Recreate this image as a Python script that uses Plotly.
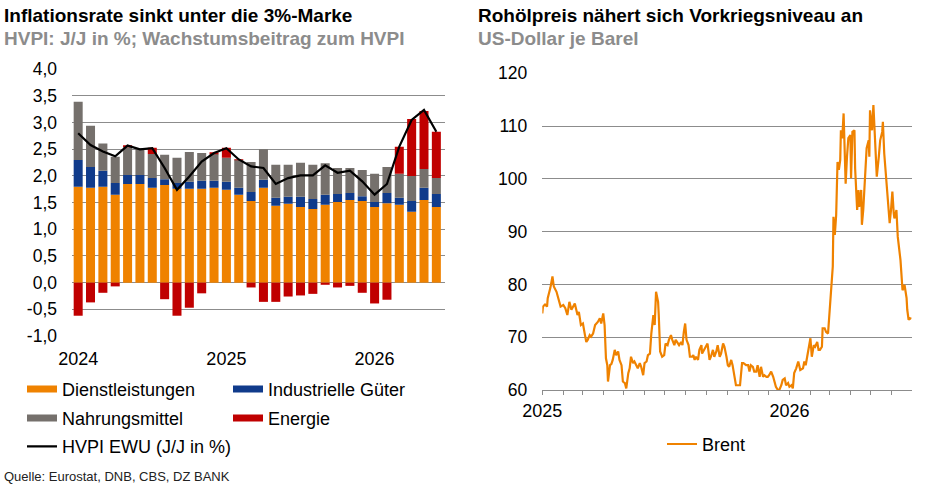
import plotly.graph_objects as go
import pandas as pd

# ---------------- Left chart data (monthly, Jan 2024 - Jun 2026) ----------------
months = pd.period_range("2024-01", "2026-06", freq="M").strftime("%Y-%m").tolist()
dienstleistungen = [1.80, 1.78, 1.80, 1.65, 1.85, 1.85, 1.78, 1.83, 1.76, 1.76, 1.76, 1.78,
                    1.74, 1.65, 1.53, 1.78, 1.44, 1.48, 1.42, 1.38, 1.46, 1.51, 1.55, 1.53,
                    1.42, 1.49, 1.46, 1.33, 1.55, 1.42]
industrielle_gueter = [0.50, 0.39, 0.30, 0.22, 0.17, 0.17, 0.18, 0.11, 0.11, 0.13, 0.15, 0.13,
                       0.15, 0.13, 0.17, 0.15, 0.15, 0.13, 0.19, 0.19, 0.19, 0.15, 0.13, 0.09,
                       0.09, 0.19, 0.13, 0.20, 0.23, 0.24]
nahrungsmittel = [1.09, 0.77, 0.51, 0.49, 0.52, 0.50, 0.45, 0.46, 0.47, 0.56, 0.52, 0.50,
                  0.45, 0.52, 0.56, 0.57, 0.62, 0.60, 0.64, 0.64, 0.59, 0.49, 0.47, 0.49,
                  0.53, 0.49, 0.45, 0.47, 0.35, 0.30]
energie = [-0.62, -0.37, -0.19, -0.07, 0.03, 0.00, 0.12, -0.31, -0.62, -0.47, -0.20, 0.02,
           0.19, 0.01, -0.09, -0.36, -0.36, -0.26, -0.24, -0.21, -0.04, -0.09, -0.06, -0.19,
           -0.39, -0.32, 0.51, 1.07, 1.09, 0.87]
hvpi = [2.80, 2.58, 2.46, 2.37, 2.57, 2.50, 2.52, 2.15, 1.74, 1.99, 2.27, 2.43,
        2.52, 2.31, 2.18, 2.15, 1.85, 1.96, 2.01, 2.01, 2.20, 2.06, 2.10, 1.90,
        1.65, 1.85, 2.55, 3.05, 3.24, 2.83]
left_tickvals_x = ["2024-01", "2025-01", "2026-01"]
left_ticktext_x = ["2024", "2025", "2026"]
left_tickvals_y = [-1.0, -0.5, 0.0, 0.5, 1.0, 1.5, 2.0, 2.5, 3.0, 3.5, 4.0]
left_ticktext_y = ["-1,0", "-0,5", "0,0", "0,5", "1,0", "1,5", "2,0", "2,5", "3,0", "3,5", "4,0"]

# ---------------- Right chart data (Brent, days since 2025-01-01) ----------------
brent_days = [0, 1, 4, 7, 8, 12, 15, 17, 21, 24, 27, 31, 34, 37, 40, 43, 48, 52, 54, 57,
              60, 63, 65, 67, 70, 72, 75, 78, 82, 85, 87, 90, 92, 94, 96, 97, 100, 102, 104, 107,
              109, 112, 114, 117, 119, 122, 124, 127, 129, 131, 134, 136, 139, 141, 144, 146, 149, 151, 154, 156,
              159, 161, 164, 166, 168, 171, 172, 174, 177, 180, 182, 185, 187, 190, 192, 195, 197, 200, 202, 205,
              207, 209, 211, 213, 216, 218, 221, 223, 225, 227, 230, 232, 235, 236, 239, 242, 244, 247, 249, 252,
              254, 257, 259, 262, 264, 267, 269, 272, 274, 276, 279, 281, 284, 286, 289, 292, 295, 297, 301, 304,
              306, 308, 311, 313, 316, 318, 321, 323, 326, 328, 331, 333, 335, 338, 341, 343, 345, 348, 350, 353,
              355, 358, 360, 363, 365, 368, 370, 372, 375, 378, 381, 385, 387, 389, 391, 393, 396, 398, 401, 403,
              406, 408, 410, 413, 414, 417, 419, 422, 424, 426, 428, 429, 430, 432, 434, 436, 438, 440, 441, 443,
              445, 446, 448, 450, 452, 455, 456, 458, 461, 462, 465, 467, 468, 471, 472, 474, 477, 479, 482, 483,
              484, 487, 489, 491, 493, 494, 497, 499, 502, 503, 505, 508, 509, 511, 513, 515, 517, 519, 520, 523,
              525, 529, 531, 532, 535, 538, 539, 541, 543, 545]
brent_values = [74.5, 75.8, 76.2, 75.8, 77.4, 79.4, 81.5, 79.6, 78.6, 77.0, 75.8, 76.1, 75.5, 74.2, 76.7, 75.2, 76.4, 74.2, 74.8, 72.3,
                72.6, 70.4, 69.1, 69.5, 70.4, 70.1, 70.7, 72.3, 72.9, 73.6, 72.6, 74.5, 72.3, 66.0, 64.7, 61.6, 64.7, 64.9, 65.7, 67.6,
                66.6, 67.3, 65.7, 64.7, 61.6, 61.3, 60.3, 63.2, 64.1, 66.3, 65.1, 65.4, 64.7, 64.1, 65.1, 64.4, 62.8, 65.1, 65.4, 66.6,
                66.9, 70.7, 74.2, 72.3, 78.6, 76.7, 74.2, 67.3, 66.3, 66.6, 68.8, 68.5, 69.5, 70.4, 69.5, 68.5, 69.5, 68.8, 68.5, 69.1,
                68.5, 71.0, 72.6, 69.5, 68.5, 66.3, 66.3, 66.6, 65.7, 66.3, 65.7, 67.6, 68.5, 66.9, 67.6, 68.2, 68.8, 65.7, 66.3, 67.6,
                66.3, 67.3, 68.5, 66.3, 66.9, 68.8, 68.2, 66.3, 64.7, 64.4, 65.7, 64.7, 62.8, 60.9, 60.9, 60.9, 65.1, 65.1, 64.7, 64.7,
                63.5, 64.7, 64.4, 63.5, 63.5, 64.7, 62.5, 64.4, 62.5, 62.8, 62.5, 62.5, 62.8, 63.5, 62.5, 61.6, 60.6, 60.0, 60.0, 60.9,
                61.9, 62.2, 60.9, 61.3, 60.6, 60.9, 60.3, 63.2, 64.1, 65.4, 63.8, 64.1, 65.4, 64.7, 66.3, 68.2, 69.8, 66.3, 68.5, 68.2,
                69.1, 67.6, 67.6, 68.2, 71.7, 71.7, 71.0, 70.7, 74.8, 77.7, 82.1, 83.4, 92.8, 89.4, 93.1, 103.2, 101.7, 103.6, 109.2, 107.7,
                112.4, 108.0, 99.1, 104.2, 107.7, 108.3, 100.1, 108.9, 109.2, 102.0, 94.1, 97.9, 94.7, 97.9, 91.3, 94.1, 101.0, 105.8, 107.3, 104.2,
                113.0, 109.2, 114.0, 107.3, 101.7, 100.4, 104.2, 107.3, 108.9, 110.8, 104.8, 99.8, 98.8, 96.0, 91.6, 94.1, 97.6, 93.5, 92.5, 94.1,
                89.0, 84.6, 81.8, 78.9, 79.9, 77.4, 75.2, 73.3, 73.6, 73.5]
brent_dates = pd.Timestamp("2025-01-01") + pd.to_timedelta(brent_days, unit="D")
right_tickvals_x = pd.date_range("2025-01-01", "2026-06-01", freq="MS")
right_ticktext_x = ["2025" if (d.month == 1 and d.year == 2025) else ("2026" if (d.month == 1 and d.year == 2026) else "")
                    for d in right_tickvals_x]
right_tickvals_y = [60, 70, 80, 90, 100, 110, 120]

# ---------------- Styles ----------------
C_ORANGE = "#EF8200"
C_BLUE = "#103B8B"
C_GREY = "#75706C"
C_RED = "#C00000"
C_GRID = "#8C8C8C"
FONT = "Liberation Sans, Arial, sans-serif"
W, H = 941, 493

fig = go.Figure()

bar_series = [("Dienstleistungen", dienstleistungen, C_ORANGE, "legend"),
              ("Industrielle Güter", industrielle_gueter, C_BLUE, "legend"),
              ("Nahrungsmittel", nahrungsmittel, C_GREY, "legend2"),
              ("Energie", energie, C_RED, "legend2")]
for name, vals, col, leg in bar_series:
    fig.add_trace(go.Bar(x=months, y=vals, name=name, marker=dict(color=col, line=dict(width=0)),
                         showlegend=False, legendgroup=name, xaxis="x", yaxis="y"))
for name, vals, col, leg in bar_series:
    fig.add_trace(go.Scatter(x=[None], y=[None], mode="lines", name=name, legendgroup=name,
                             line=dict(color=col, width=7), legend=leg, xaxis="x", yaxis="y"))

fig.add_trace(go.Scatter(x=months, y=hvpi, mode="lines", name="HVPI EWU (J/J in %)",
                         line=dict(color="black", width=2.2), legend="legend3", xaxis="x", yaxis="y"))

fig.add_trace(go.Scatter(x=brent_dates, y=brent_values, mode="lines", name="Brent",
                         line=dict(color=C_ORANGE, width=2.2), legend="legend4", xaxis="x2", yaxis="y2"))

def px_x(p):
    return p / W

def px_y(p):
    return (H - p) / H

leg_common = dict(orientation="h", xanchor="left", yanchor="middle", bgcolor="rgba(0,0,0,0)",
                  font=dict(size=18, family=FONT, color="black"), entrywidthmode="pixels",
                  itemwidth=30, borderwidth=0)

fig.update_layout(
    width=W, height=H,
    margin=dict(l=0, r=0, t=0, b=0, autoexpand=False),
    paper_bgcolor="white", plot_bgcolor="white",
    font=dict(family=FONT, color="black", size=18),
    barmode="relative", bargap=0.27,
    xaxis=dict(domain=[px_x(72), px_x(445)], type="category", range=[-0.5, 29.7],
               tickvals=left_tickvals_x, ticktext=left_ticktext_x, showgrid=False, ticks="",
               showline=False, zeroline=False, tickfont=dict(size=18), ticklabelstandoff=10,
               anchor="y", automargin=False),
    yaxis=dict(domain=[px_y(336), px_y(69.3)], range=[-1, 4], tickvals=left_tickvals_y,
               ticktext=left_ticktext_y, showgrid=True, gridcolor=C_GRID, gridwidth=1,
               zeroline=False, showline=False, ticks="", tickfont=dict(size=17.5),
               ticklabelstandoff=14, anchor="x", automargin=False),
    xaxis2=dict(domain=[px_x(542.3), px_x(912)], type="date", range=["2025-01-01", "2026-07-01"],
                tickvals=right_tickvals_x, ticktext=right_ticktext_x, showgrid=False,
                ticks="outside", ticklen=4, tickcolor=C_GRID, tickwidth=1,
                showline=True, linecolor=C_GRID, linewidth=1, zeroline=False,
                tickfont=dict(size=18), anchor="y2", automargin=False),
    yaxis2=dict(domain=[px_y(390), px_y(73.3)], range=[60, 120], tickvals=right_tickvals_y,
                showgrid=True, gridcolor=C_GRID, gridwidth=1, zeroline=False, showline=False,
                ticks="", tickfont=dict(size=17.5), ticklabelstandoff=14, anchor="x2",
                automargin=False),
    legend=dict(x=px_x(22), y=px_y(389.3), entrywidth=161, **leg_common),
    legend2=dict(x=px_x(22), y=px_y(418.3), entrywidth=161, **leg_common),
    legend3=dict(x=px_x(22), y=px_y(446.7), entrywidth=260, **leg_common),
    legend4=dict(x=px_x(662), y=px_y(444.3), entrywidth=80, **leg_common),
    showlegend=True,
)

annotations = [
    dict(text="<b>Inflationsrate sinkt unter die 3%-Marke</b>", x=px_x(2), y=px_y(15),
         font=dict(size=19, color="black")),
    dict(text="<b>HVPI: J/J in %; Wachstumsbeitrag zum HVPI</b>", x=px_x(2), y=px_y(38.5),
         font=dict(size=19, color="#8C8C8C")),
    dict(text="<b>Rohölpreis nähert sich Vorkriegsniveau an</b>", x=px_x(476), y=px_y(15),
         font=dict(size=19, color="black")),
    dict(text="<b>US-Dollar je Barel</b>", x=px_x(476), y=px_y(38.5),
         font=dict(size=19, color="#8C8C8C")),
    dict(text="Quelle: Eurostat, DNB, CBS, DZ BANK", x=px_x(2), y=px_y(476),
         font=dict(size=13, color="#222222")),
]
for a in annotations:
    a.update(xref="paper", yref="paper", xanchor="left", yanchor="middle", showarrow=False)
fig.update_layout(annotations=annotations)

fig.write_html("out.html")
